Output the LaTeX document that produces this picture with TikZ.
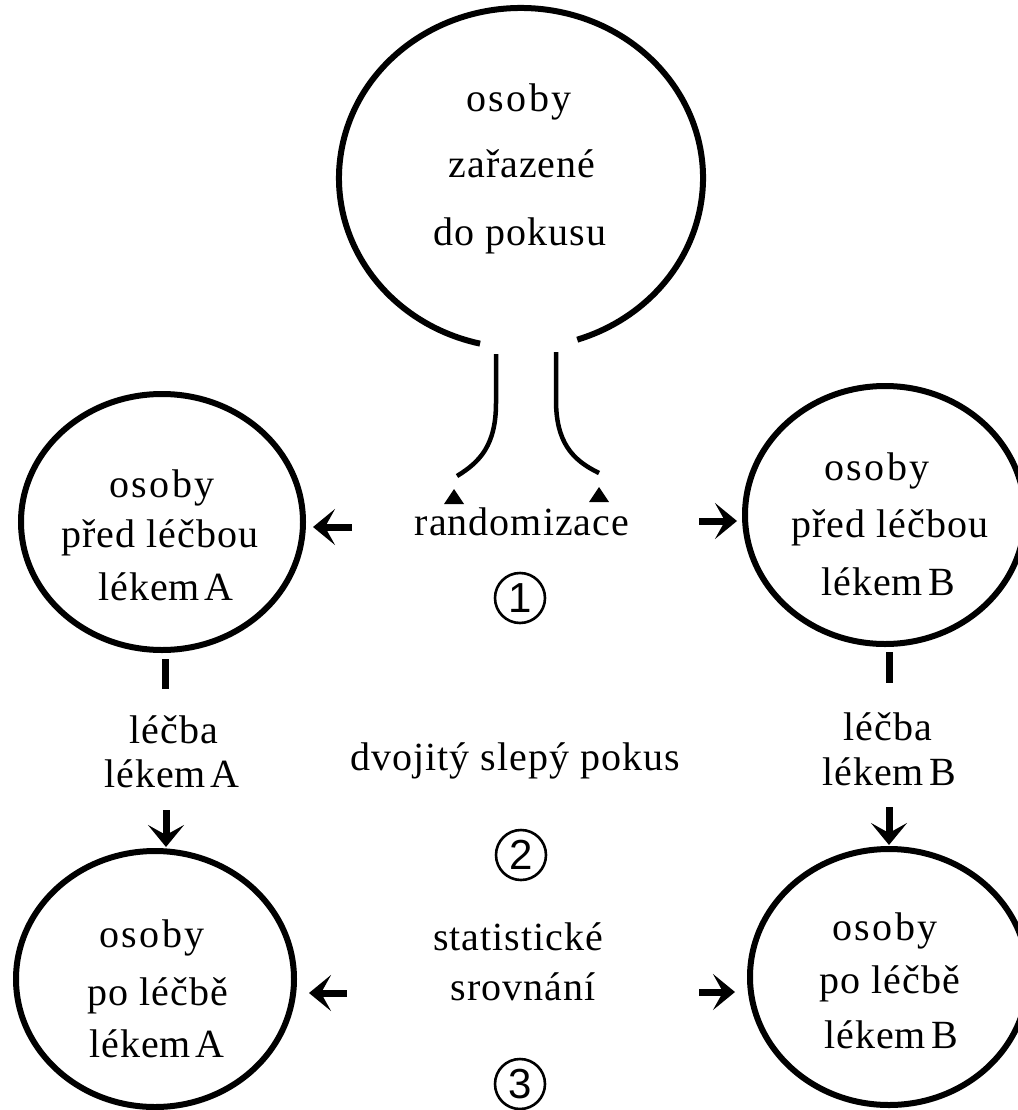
\documentclass[tikz,border=0pt]{standalone}
\usepackage{fontspec}
\setmainfont{Liberation Serif}[LetterSpace=2.5]
\newfontfamily\digitfont{Liberation Sans}
\usetikzlibrary{arrows.meta,shapes.geometric}

% wide tracking for the word "osoby", tight space before the drug letter
\newcommand{\wide}[1]{{\addfontfeature{LetterSpace=6}#1}}
\newcommand{\drug}[1]{lékem\kern5pt #1}

\begin{document}
\begin{tikzpicture}[x=1pt,y=-1pt,
  ring/.style={draw, ellipse, line width=6pt, inner sep=0pt},
  word/.style={font=\fontsize{40}{48}\selectfont, inner sep=0pt, anchor=base},
  fat/.style={line width=7pt, -{Stealth[length=22pt,width=36pt,inset=10pt]}},
  bar/.style={line width=7pt},
  stem/.style={line width=4.5pt},
  num/.style={draw, circle, line width=2.6pt, minimum size=50pt, inner sep=0pt,
              font=\digitfont\fontsize{42}{42}\selectfont},
]
\useasboundingbox (0,0) rectangle (1017,1110);

% ---- people entering the trial: open at the bottom
\node[ellipse, minimum width=364pt, minimum height=340pt, inner sep=0pt] (pool) at (521,178) {};
\draw[line width=6pt] (pool.center) ++(103:182 and 170)
  arc[start angle=103, end angle=432, x radius=182, y radius=170];
\node[word] (p1) at (519,112) {\wide{osoby}};
\node[word] (p2) at (522,178) {zařazené};
\node[word] (p3) at (520,245) {do pokusu};

% ---- the two groups before treatment
\node[ring, minimum width=282pt, minimum height=256pt] (midA) at (162,522) {};
\node[word] (a1) at (162,497) {\wide{osoby}};
\node[word] (a2) at (160,547) {před léčbou};
\node[word] (a3) at (166,600) {\drug{A}};

\node[ring, minimum width=280pt, minimum height=258pt] (midB) at (885,515) {};
\node[word] (b1) at (877,480) {\wide{osoby}};
\node[word] (b2) at (890,537) {před léčbou};
\node[word] (b3) at (888,595) {\drug{B}};

% ---- the two groups after treatment
\node[ring, minimum width=278pt, minimum height=256pt] (botA) at (155,979) {};
\node[word] (c1) at (152,947) {\wide{osoby}};
\node[word] (c2) at (158,1005) {po léčbě};
\node[word] (c3) at (157,1057) {\drug{A}};

\node[ring, minimum width=278pt, minimum height=256pt] (botB) at (889,977) {};
\node[word] (d1) at (885,940) {\wide{osoby}};
\node[word] (d2) at (890,993) {po léčbě};
\node[word] (d3) at (891,1048) {\drug{B}};

% ---- randomisation: two branches out of the pool
\coordinate (sL) at (496,354);
\coordinate (sR) at (556,352);
\draw[stem] (sL) -- ++(0,49) .. controls (496,445) and (480,462) .. (457,476);
\draw[stem] (sR) -- ++(0,48) .. controls (556,442) and (572,460) .. (599,473);
\coordinate (tL) at (454,497);
\coordinate (tR) at (599,495);
\fill (tL) ++(0,-8) -- ++(10,15) -- ++(-20,0) -- cycle;
\fill (tR) ++(0,-8) -- ++(10,15) -- ++(-20,0) -- cycle;

\node[word] (rand) at (522,535) {randomizace};
\node[num] (n1) at (520,598) {1};

\coordinate (rL) at (352,527);
\coordinate (rR) at (699,521);
\draw[fat, shorten >=7pt] (rL) -- (rL -| midA.east);
\draw[fat, shorten >=5pt] (rR) -- (rR -| midB.west);

% ---- treatment
\draw[bar] ([shift={(3,6)}]midA.south) -- ++(0,30);
\draw[bar] ([shift={(4,5)}]midB.south) -- ++(0,31);
\node[word] (ta1) at (174,743) {léčba};
\node[word] (ta2) at (172,787) {\drug{A}};
\node[word] (tb1) at (888,740) {léčba};
\node[word] (tb2) at (889,785) {\drug{B}};
\coordinate (dA) at (166,810);
\coordinate (dB) at (889,807);
\draw[fat, shorten >=1pt] (dA) -- (dA |- botA.north);
\draw[fat, shorten >=1pt] (dB) -- (dB |- botB.north);

\node[word] (blind) at (515,770) {dvojitý slepý pokus};
\node[num] (n2) at (521,855) {2};

% ---- comparison
\node[word] (s1) at (518,950) {statistické};
\node[word] (s2) at (523,1000) {srovnání};
\coordinate (qL) at (347,993);
\coordinate (qR) at (699,992);
\draw[fat, shorten >=12pt] (qL) -- (qL -| botA.east);
\draw[fat, shorten >=12pt] (qR) -- (qR -| botB.west);
\node[num] (n3) at (520,1084) {3};
\end{tikzpicture}
\end{document}
